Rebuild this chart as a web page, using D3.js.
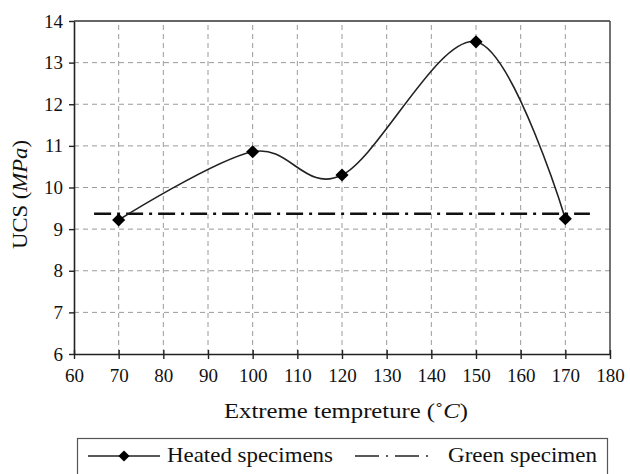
<!DOCTYPE html>
<html>
<head>
<meta charset="utf-8">
<script src="https://cdn.jsdelivr.net/npm/d3@7"></script>
<style>
  html, body { margin: 0; padding: 0; background: #fff; }
  svg { display: block; }
  svg text { font-family: 'Liberation Serif', 'Times New Roman', Times, serif !important; fill: #111; }
</style>
</head>
<body>
<svg id="chart" width="630" height="474"></svg>
<script>
// ---- data ----
const temps = [70, 100, 120, 150, 170];
const ucsHeated = [9.22, 10.86, 10.30, 13.50, 9.25];
const greenValue = 9.37;
const greenSpan = [64.5, 175.5];
const xTicks = [60, 70, 80, 90, 100, 110, 120, 130, 140, 150, 160, 170, 180];
const yTicks = [6, 7, 8, 9, 10, 11, 12, 13, 14];
const seriesNames = ["Heated specimens", "Green specimen"];

const svg = d3.select("#chart");
const x = d3.scaleLinear().domain([60, 180]).range([74, 610]);
const y = d3.scaleLinear().domain([6, 14]).range([354, 21]);

// grid
const grid = svg.append("g");
grid.selectAll("line.v").data(xTicks.filter(t => t > 60 && t < 180)).join("line")
  .attr("x1", d => x(d)).attr("x2", d => x(d)).attr("y1", y(6)).attr("y2", y(14))
  .attr("stroke", "#9a9a9a").attr("stroke-width", 1).attr("stroke-dasharray", "5,4");
grid.selectAll("line.h").data(yTicks.filter(t => t > 6 && t < 14)).join("line")
  .attr("x1", x(60)).attr("x2", x(180)).attr("y1", d => y(d)).attr("y2", d => y(d))
  .attr("stroke", "#9a9a9a").attr("stroke-width", 1).attr("stroke-dasharray", "5,4");

// border top/right
svg.append("line").attr("x1", x(60)).attr("x2", x(180)).attr("y1", y(14)).attr("y2", y(14))
  .attr("stroke", "#333").attr("stroke-width", 1.5);
svg.append("line").attr("x1", x(180)).attr("x2", x(180)).attr("y1", y(14)).attr("y2", y(6))
  .attr("stroke", "#444").attr("stroke-width", 1.5);

// axes
const xAxis = d3.axisBottom(x).tickValues(xTicks).tickSizeInner(5).tickSizeOuter(0).tickPadding(10);
const gx = svg.append("g").attr("transform", `translate(0,${y(6)})`).call(xAxis)
  .attr("font-family", null).attr("font-size", null);
gx.select(".domain").attr("stroke", "#222").attr("stroke-width", 1.6);
gx.selectAll(".tick line").attr("stroke", "#222").attr("stroke-width", 1.4).attr("y1", -4).attr("y2", 5);
gx.selectAll(".tick text").style("font-size", "19px").attr("fill", "#111");

const yAxis = d3.axisLeft(y).tickValues(yTicks).tickSizeInner(5).tickSizeOuter(0).tickPadding(6);
const gy = svg.append("g").attr("transform", `translate(${x(60)},0)`).call(yAxis)
  .attr("font-family", null).attr("font-size", null);
gy.select(".domain").attr("stroke", "#222").attr("stroke-width", 1.6);
gy.selectAll(".tick line").attr("stroke", "#222").attr("stroke-width", 1.4);
gy.selectAll(".tick text").style("font-size", "19px").attr("fill", "#111");

// green specimen line
svg.append("line")
  .attr("x1", x(greenSpan[0])).attr("x2", x(greenSpan[1]))
  .attr("y1", y(greenValue)).attr("y2", y(greenValue))
  .attr("stroke", "#111").attr("stroke-width", 2.6).attr("stroke-dasharray", "17,6,3,6");

// heated line
const pts = temps.map((t, i) => [t, ucsHeated[i]]);
const line = d3.line().x(d => x(d[0])).y(d => y(d[1])).curve(d3.curveCardinal.tension(0));
svg.append("path").datum(pts).attr("d", line)
  .attr("fill", "none").attr("stroke", "#222").attr("stroke-width", 1.6);

const diamond = d3.symbol().type(d3.symbolDiamond2).size(110);
svg.selectAll("path.pt").data(pts).join("path")
  .attr("class", "pt").attr("d", diamond)
  .attr("transform", d => `translate(${x(d[0])},${y(d[1])})`)
  .attr("fill", "#000");

// axis titles
svg.append("text").attr("x", 224).attr("y", 418)
  .attr("textLength", 244).attr("lengthAdjust", "spacingAndGlyphs")
  .style("font-size", "20px")
  .html('Extreme tempreture (˚<tspan font-style="italic">C</tspan>)');

svg.append("text").attr("transform", "translate(27,249) rotate(-90)")
  .attr("textLength", 109).attr("lengthAdjust", "spacingAndGlyphs")
  .style("font-size", "22px")
  .html('UCS (<tspan font-style="italic">MPa</tspan>)');

// legend
svg.append("rect").attr("x", 77.5).attr("y", 438.5).attr("width", 530).attr("height", 60)
  .attr("fill", "none").attr("stroke", "#555").attr("stroke-width", 1.2);
svg.append("line").attr("x1", 88).attr("x2", 160).attr("y1", 456).attr("y2", 456)
  .attr("stroke", "#222").attr("stroke-width", 1.6);
svg.append("path").attr("d", d3.symbol().type(d3.symbolDiamond2).size(80))
  .attr("transform", "translate(124,456)").attr("fill", "#000");
svg.append("text").attr("x", 167).attr("y", 462)
  .attr("textLength", 166).attr("lengthAdjust", "spacingAndGlyphs")
  .style("font-size", "21px").text(seriesNames[0]);
svg.append("line").attr("x1", 355).attr("x2", 432).attr("y1", 456).attr("y2", 456)
  .attr("stroke", "#222").attr("stroke-width", 1.6).attr("stroke-dasharray", "24,7,2,7");
svg.append("text").attr("x", 448).attr("y", 462)
  .attr("textLength", 149).attr("lengthAdjust", "spacingAndGlyphs")
  .style("font-size", "21px").text(seriesNames[1]);
</script>
</body>
</html>
